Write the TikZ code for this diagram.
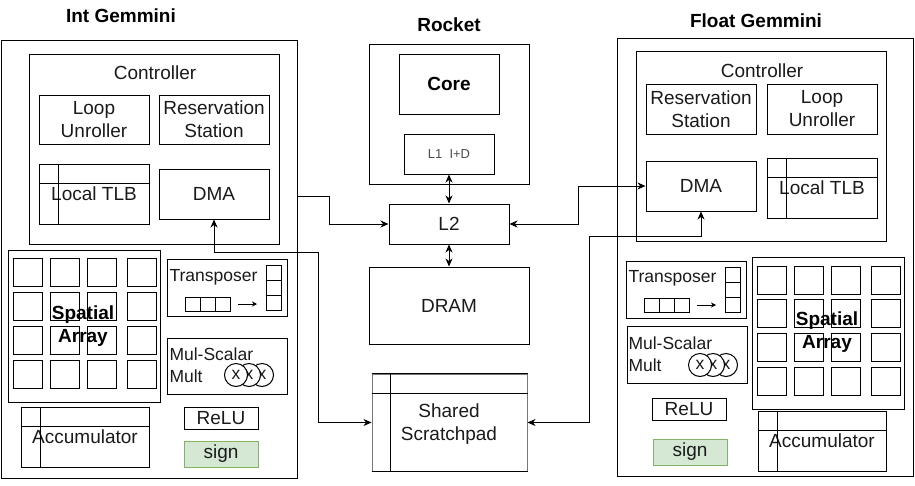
\documentclass[tikz,border=0pt]{standalone}
\usepackage{fontspec}
\setmainfont{Liberation Sans}
\usetikzlibrary{arrows.meta,calc}
\definecolor{signfill}{HTML}{D5E8D4}
\definecolor{signdraw}{HTML}{82B366}
\definecolor{txt}{HTML}{1A1A1A}
\definecolor{spgray}{HTML}{777777}
\newcommand\fsN{\fontsize{19}{23}\selectfont}
\newcommand\fsS{\fontsize{17.5}{22}\selectfont}
\newcommand\fsT{\fontsize{13}{15}\selectfont}
\newcommand\bx[7][]{\node[box,minimum width={#5-#3},minimum height={#6-#4},#1] (#2) at ({(#3+#5)/2},{(#4+#6)/2}) {#7};}
\begin{document}
\begin{tikzpicture}[x=1pt,y=-1pt,line width=1pt,
  box/.style={draw,inner sep=0pt,align=center,font=\fsN,text=txt},
  cell/.style={draw,inner sep=0pt,minimum width=29,minimum height=28},
  title/.style={font=\bfseries\fsN,text=black},
  lbl/.style={font=\fsN,text=txt,inner sep=0pt},
  slbl/.style={font=\fsS,text=txt,inner sep=0pt,anchor=west,align=left},
  mulc/.style={draw,circle,fill=white,minimum size=23,inner sep=0pt,font=\fsS,text=txt},
  arr/.style={-{Stealth[length=8pt,width=7pt,inset=2.5pt]}},
  darr/.style={{Stealth[length=8pt,width=7pt,inset=2.5pt]}-{Stealth[length=8pt,width=7pt,inset=2.5pt]}},
  sarr/.style={-{Stealth[length=5pt,width=5pt,inset=1.5pt]}},
  signbox/.style={fill=signfill,draw=signdraw}]
\useasboundingbox (0,0) rectangle (915,485);

% ---------------- Int Gemmini ----------------
\node[title] (tInt) at (121,16) {Int Gemmini};
\bx{intG}{1}{40}{297}{478}{}
\bx{iCtrl}{29}{54}{279}{244}{}
\node[lbl] (iCtrlL) at (155,73) {Controller};
\bx{iLoop}{39}{95}{149}{144}{Loop\\Unroller}
\bx{iRes}{159}{95}{269}{144}{Reservation\\Station}
\bx{iTLB}{39}{164}{149}{224}{Local TLB}
\draw ([xshift=20pt]iTLB.north west) -- ([xshift=20pt]iTLB.south west);
\draw ([yshift=-20pt]iTLB.north west) -- ([yshift=-20pt]iTLB.north east);
\bx{iDMA}{159}{169}{269}{219}{DMA}

\bx{iSA}{8}{250}{160}{402}{}
\foreach \c [count=\i] in {13,50,87,127}{
  \foreach \r [count=\j] in {258,292,326,360}{
    \node[cell] (ic\i\j) at ({\c+14.5},{\r+14}) {};
  }
}
\node[font=\bfseries\fsN,align=center,inner sep=0pt] (iSAt) at (83,326) {\fontsize{19}{25}\selectfont Spatial\\Array};

\bx{iTr}{167}{259}{287}{316}{}
\node[slbl] (iTrL) at (169,277) {Transposer};
\draw (266,265) rectangle (281,310);
\draw (266,280) -- (281,280);
\draw (266,295) -- (281,295);
\draw (185,297) rectangle (230,311);
\draw (200,297) -- (200,311);
\draw (215,297) -- (215,311);
\draw[sarr] (238,304) -- (257,304);

\bx{iMul}{167}{338}{287}{394}{}
\node[slbl] (iMulL) at (169,365) {Mul-Scalar\\Mult};
\node[mulc] (im3) at (262,375) {x};
\node[mulc] (im2) at (249,375) {x};
\node[mulc] (im1) at (236,375) {x};

\bx{iRelu}{184}{407}{258}{429}{ReLU}
\bx[signbox]{iSign}{184}{441}{258}{467}{sign}
\bx{iAcc}{21}{407}{149}{467}{Accumulator}
\draw ([xshift=20pt]iAcc.north west) -- ([xshift=20pt]iAcc.south west);
\draw ([yshift=-20pt]iAcc.north west) -- ([yshift=-20pt]iAcc.north east);

% ---------------- Rocket ----------------
\node[title] (tRocket) at (449,25) {Rocket};
\bx{rocket}{369}{44}{529}{184}{}
\bx[font=\bfseries\fsN,text=black]{core}{399}{54}{499}{114}{Core}
\bx[font=\fsT,text=black!70]{L1}{404}{134}{494}{174}{L1\ \ I+D}
\bx{L2}{389}{204}{509}{244}{L2}
\bx{dram}{369}{267}{529}{344}{DRAM}
\bx[draw=spgray]{sp}{372}{374}{527}{471}{}
\node[lbl,align=center] (spL) at (449,424) {Shared\\Scratchpad};
\draw ([xshift=19pt]sp.north west) -- ([xshift=19pt]sp.south west);
\draw ([yshift=-20pt]sp.north west) -- ([yshift=-20pt]sp.north east);
\draw (sp.north west) -- (sp.north east);
\draw (sp.south west) -- (sp.south east);

% ---------------- Float Gemmini ----------------
\node[title] (tFloat) at (756,21) {Float Gemmini};
\bx{floatG}{617}{38}{913}{476}{}
\bx{fCtrl}{636}{51}{886}{241}{}
\node[lbl] (fCtrlL) at (762,71) {Controller};
\bx{fRes}{646}{84}{756}{134}{Reservation\\Station}
\bx{fLoop}{767}{84}{877}{134}{Loop\\Unroller}
\bx{fDMA}{646}{161}{756}{211}{DMA}
\bx{fTLB}{767}{158}{877}{218}{Local TLB}
\draw ([xshift=20pt]fTLB.north west) -- ([xshift=20pt]fTLB.south west);
\draw ([yshift=-20pt]fTLB.north west) -- ([yshift=-20pt]fTLB.north east);

\bx{fTr}{626}{261}{746}{318}{}
\node[slbl] (fTrL) at (628,278) {Transposer};
\draw (725,267) rectangle (740,312);
\draw (725,282) -- (740,282);
\draw (725,297) -- (740,297);
\draw (644,298) rectangle (689,312);
\draw (659,298) -- (659,312);
\draw (674,298) -- (674,312);
\draw[sarr] (697,305) -- (716,305);

\bx{fMul}{627}{326}{747}{383}{}
\node[slbl] (fMulL) at (628,354) {Mul-Scalar\\Mult};
\node[mulc] (fm3) at (726,365) {x};
\node[mulc] (fm2) at (713,365) {x};
\node[mulc] (fm1) at (700,365) {x};

\bx{fRelu}{652}{398}{726}{420}{ReLU}
\bx[signbox]{fSign}{653}{439}{727}{465}{sign}

\bx{fSA}{752}{257}{904}{409}{}
\foreach \c [count=\i] in {757,794,831,871}{
  \foreach \r [count=\j] in {266,299,333,367}{
    \node[cell] (fc\i\j) at ({\c+14.5},{\r+14}) {};
  }
}
\node[font=\bfseries\fsN,align=center,inner sep=0pt] (fSAt) at (827,332) {\fontsize{19}{24}\selectfont Spatial\\Array};

\bx{fAcc}{758}{411}{886}{471}{Accumulator}
\draw ([xshift=20pt]fAcc.north west) -- ([xshift=20pt]fAcc.south west);
\draw ([yshift=-20pt]fAcc.north west) -- ([yshift=-20pt]fAcc.north east);

% ---------------- Connectors ----------------
\coordinate (iOut) at (297,196);
\draw[arr] (iOut) -- (329,196) |- (L2.west);
\draw[darr] (iDMA.south) |- (318,252) |- (sp.west);
\draw[darr] (L1.south) -- (L2.north);
\draw[darr] (L2.south) -- (dram.north);
\draw[darr] (L2.east) -- (578,224) |- (fDMA.west);
\draw[darr] (sp.east) -| (589,236) -| (fDMA.south);
\end{tikzpicture}
\end{document}
